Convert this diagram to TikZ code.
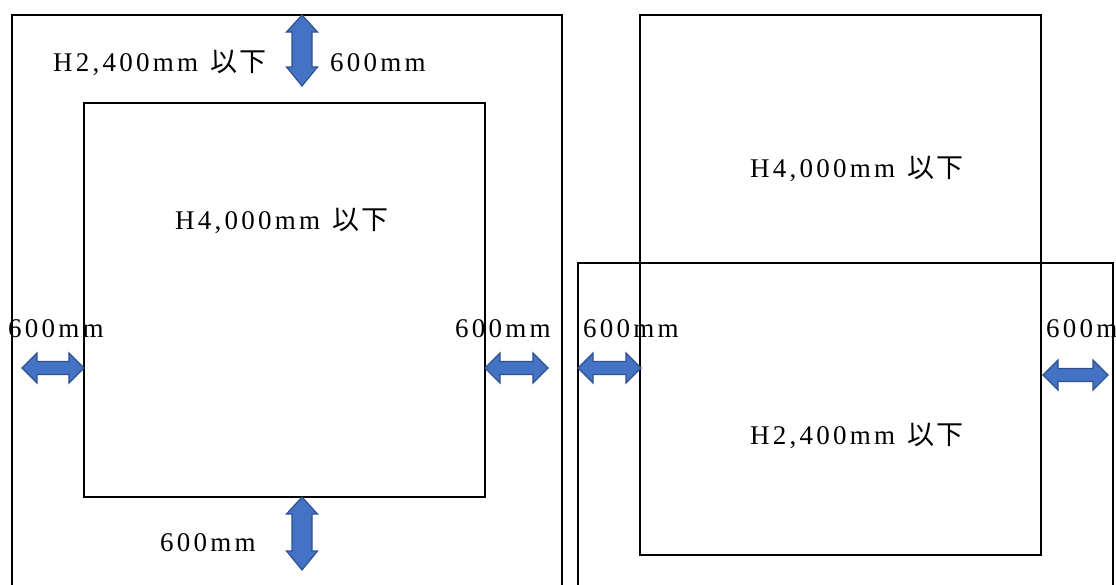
\documentclass[tikz,border=0pt]{standalone}
\usepackage{fontspec}
\setmainfont{Liberation Serif}[LetterSpace=12]
\newfontfamily\cjk{Noto Sans CJK JP}[LetterSpace=8]
\definecolor{arrfill}{HTML}{4472C4}
\definecolor{arrline}{HTML}{2F528F}
\tikzset{
  frame/.style={draw=black,line width=2.2pt},
  blockarrow/.style={fill=arrfill,draw=arrline,line width=1.2pt,line join=miter},
  lbl/.style={anchor=base west,inner sep=0pt,font=\fontsize{27}{30}\selectfont}
}
\newcommand{\hdbl}[3]{% x1 x2 y
  \path[blockarrow] (#1,#3) -- (#1+15,#3-15) -- (#1+15,#3-6.5) -- (#2-15,#3-6.5) -- (#2-15,#3-15) -- (#2,#3)
    -- (#2-15,#3+15) -- (#2-15,#3+6.5) -- (#1+15,#3+6.5) -- (#1+15,#3+15) -- cycle;}
\newcommand{\vdbl}[3]{% x y1 y2
  \path[blockarrow] (#1,#2) -- (#1+15.5,#2+17) -- (#1+10,#2+17) -- (#1+10,#3-19) -- (#1+15.5,#3-19) -- (#1,#3)
    -- (#1-15.5,#3-19) -- (#1-10,#3-19) -- (#1-10,#2+17) -- (#1-15.5,#2+17) -- cycle;}
\newcommand{\ika}{\hspace*{12pt}{\cjk 以下}}
\begin{document}
\begin{tikzpicture}[x=1pt,y=-1pt]
\useasboundingbox (0,0) rectangle (1116,584);
\clip (0,0) rectangle (1116,584);
% left panel
\draw[frame] (12,600) -- (12,15) -- (562,15) -- (562,600);
\draw[frame] (84,103) rectangle (485,497);
% right panel
\draw[frame] (640,15) rectangle (1041,555);
\draw[frame] (578,600) -- (578,263) -- (1113,263) -- (1113,600);
% arrows
\vdbl{302}{15}{86}
\vdbl{302}{497}{570}
\hdbl{22}{84}{368}
\hdbl{485}{548}{368}
\hdbl{578}{641}{368}
\hdbl{1043}{1108}{375}
% labels
\node[lbl] (t1) at (53,71) {H2,400mm\ika};
\node[lbl] (t2) at (330,71) {600mm};
\node[lbl] (t3) at (175,229) {H4,000mm\ika};
\node[lbl] (t4) at (8,337) {600mm};
\node[lbl] (t5) at (455,337) {600mm};
\node[lbl] (t6) at (583,337) {600mm};
\node[lbl] (t7) at (1046,337) {600mm};
\node[lbl] (t8) at (160,551) {600mm};
\node[lbl] (t9) at (750,177) {H4,000mm\ika};
\node[lbl] (t10) at (750,444) {H2,400mm\ika};
\end{tikzpicture}
\end{document}
